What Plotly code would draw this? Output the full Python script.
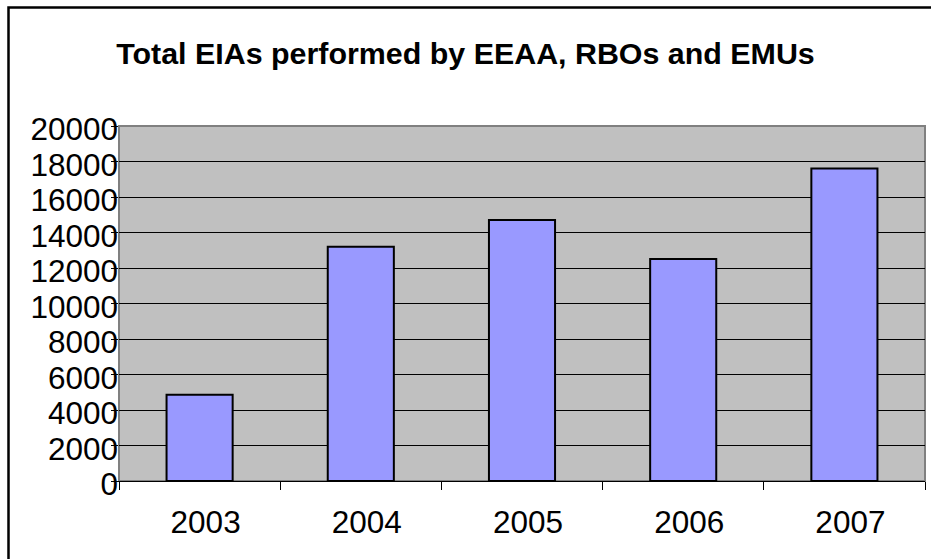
import plotly.graph_objects as go

# Environmental impact assessments per year
years = ["2003", "2004", "2005", "2006", "2007"]
eias = [4860, 13200, 14700, 12500, 17600]

title_text = "Total EIAs performed by EEAA, RBOs and EMUs"
y_ticks = [0, 2000, 4000, 6000, 8000, 10000, 12000, 14000, 16000, 18000, 20000]

W, H = 931, 559
ML, MR, MT, MB = 119, 6, 126, 78
pw, ph = W - ML - MR, H - MT - MB

FONT = "Liberation Sans, Arial, sans-serif"
TICK_SIZE = 31.5

fig = go.Figure(
    go.Bar(
        x=years,
        y=eias,
        marker=dict(color="#9999FF", line=dict(color="#000000", width=2)),
        width=0.41,
    )
)


def px_x(x):
    return (x - ML) / pw


def px_y(y):
    return (H - MB - y) / ph


fig.update_layout(
    width=W,
    height=H,
    margin=dict(l=ML, r=MR, t=MT, b=MB, pad=0),
    paper_bgcolor="#FFFFFF",
    plot_bgcolor="#C0C0C0",
    font=dict(family=FONT, color="#000000", size=TICK_SIZE),
    showlegend=False,
    bargap=0.59,
    title=dict(
        text="<b>" + title_text + "</b>",
        x=0.5,
        xanchor="center",
        xref="container",
        y=1 - 53 / H,
        yref="container",
        yanchor="middle",
        font=dict(family=FONT, size=30.4, color="#000000"),
    ),
    xaxis=dict(
        type="category",
        showgrid=False,
        showline=True,
        linecolor="#000000",
        linewidth=1,
        ticks="outside",
        tickson="boundaries",
        ticklen=8,
        tickcolor="#000000",
        tickfont=dict(size=TICK_SIZE),
        ticklabelshift=6,
        ticklabelstandoff=13,
        zeroline=False,
    ),
    # value axis: gridlines and tick marks
    yaxis=dict(
        range=[0, 20000],
        tickvals=y_ticks,
        showgrid=True,
        gridcolor="#000000",
        gridwidth=1,
        showline=True,
        linecolor="#808080",
        linewidth=1,
        ticks="outside",
        ticklen=7,
        tickcolor="#000000",
        showticklabels=False,
        zeroline=False,
    ),
    # value axis labels, set flush against the tick marks
    yaxis2=dict(
        range=[0, 20000],
        overlaying="y",
        side="left",
        tickvals=y_ticks,
        ticktext=[str(v) for v in y_ticks],
        showgrid=False,
        showline=False,
        ticks="",
        tickfont=dict(size=TICK_SIZE),
        ticklabelshift=3,
        zeroline=False,
    ),
)

# invisible trace so the label axis is drawn
fig.add_trace(go.Scatter(x=years, y=eias, yaxis="y2", mode="none",
                         hoverinfo="skip", showlegend=False))

# gray frame around the plot area
fig.add_shape(
    type="rect", xref="paper", yref="paper", x0=0, x1=1, y0=0, y1=1,
    line=dict(color="#808080", width=2), fillcolor="rgba(0,0,0,0)", layer="below",
)
# outer chart border
fig.add_shape(
    type="rect", xref="paper", yref="paper",
    x0=px_x(8.5), x1=px_x(940), y0=px_y(570), y1=px_y(7.5),
    line=dict(color="#000000", width=2.5), fillcolor="rgba(0,0,0,0)",
)

fig.write_html("out.html")
